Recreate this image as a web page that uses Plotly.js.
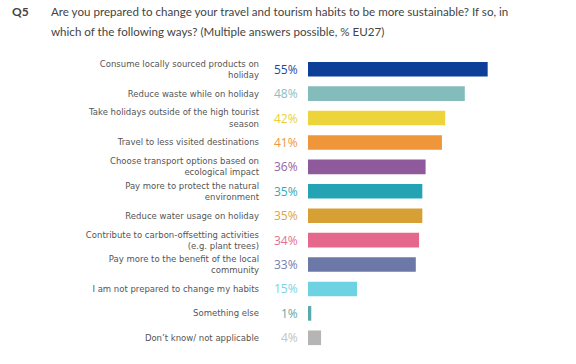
<!DOCTYPE html>
<html>
<head>
<meta charset="utf-8">
<script src="https://cdn.plot.ly/plotly-3.0.1.min.js"></script>
<style>html,body{margin:0;padding:0;background:#fff;}#chart{width:576px;height:364px;}</style>
</head>
<body>
<div id="chart"></div>
<script>
const categories = [
  "Consume locally sourced products on<br>holiday",
  "Reduce waste while on holiday",
  "Take holidays outside of the high tourist<br>season",
  "Travel to less visited destinations",
  "Choose transport options based on<br>ecological impact",
  "Pay more to protect the natural<br>environment",
  "Reduce water usage on holiday",
  "Contribute to carbon-offsetting activities<br>(e.g. plant trees)",
  "Pay more to the benefit of the local<br>community",
  "I am not prepared to change my habits",
  "Something else",
  "Don\u2019t know/ not applicable"
];
const values = [55, 48, 42, 41, 36, 35, 35, 34, 33, 15, 1, 4];
const barColors = ["#0b3f98", "#84bbbb", "#edd43a", "#f0963a", "#8f5a9b", "#24a3b5",
                   "#d6a034", "#e5688c", "#6b78a8", "#6dd2e2", "#5ba9a9", "#b5b5b5"];
const labelColors = ["#1a4a9e", "#8cc0c0", "#e8cf3a", "#f0963a", "#9565a0", "#2eaabb",
                     "#d9a63e", "#e5708f", "#7480ad", "#76d4e3", "#5ba9a9", "#c4c4c4"];
const titleQ = "Q5";
const titleLines = [
  "Are you prepared to change your travel and tourism habits to be more sustainable? If so, in",
  "which of the following ways? (Multiple answers possible, % EU27)"
];

const W = 576, H = 364;
const margin = {l: 308, r: 72, t: 57, b: 14};
const plotW = W - margin.l - margin.r;
const plotH = H - margin.t - margin.b;
const px2x = px => (px - margin.l) / plotW;
const px2y = py => (H - margin.b - py) / plotH;

const trace = {
  type: "bar",
  orientation: "h",
  x: values,
  y: categories,
  marker: {color: barColors, line: {width: 0}},
  width: 0.6,
  hoverinfo: "skip"
};

const annotations = categories.map((c, i) => ({
  xref: "x", yref: "y", x: 0, y: c,
  text: values[i] + "%",
  showarrow: false, xanchor: "right", yanchor: "middle", xshift: -8,
  font: {family: "Open Sans", size: 12, color: labelColors[i]}
}));

annotations.push({
  xref: "paper", yref: "paper", x: px2x(10), y: px2y(12),
  text: "<b>" + titleQ + "</b>", showarrow: false, xanchor: "left", yanchor: "middle",
  font: {family: "Lato", size: 12, color: "#444"}
});
titleLines.forEach((t, k) => annotations.push({
  xref: "paper", yref: "paper", x: px2x(49), y: px2y(12 + 19 * k),
  text: t, showarrow: false, xanchor: "left", yanchor: "middle",
  font: {family: "Lato", size: 11.6, color: "#444"}
}));

const layout = {
  width: W, height: H,
  margin: margin,
  paper_bgcolor: "#fff", plot_bgcolor: "#fff",
  showlegend: false,
  bargap: 0.4,
  xaxis: {range: [0, 60], visible: false, fixedrange: true},
  yaxis: {
    type: "category", autorange: "reversed",
    showgrid: false, zeroline: false, showline: false, ticks: "",
    ticklabelstandoff: 48,
    tickfont: {family: "DejaVu Sans", size: 8.5, color: "#555"}
  },
  annotations: annotations
};

Plotly.newPlot("chart", [trace], layout, {displayModeBar: false, staticPlot: true});
</script>
</body>
</html>
